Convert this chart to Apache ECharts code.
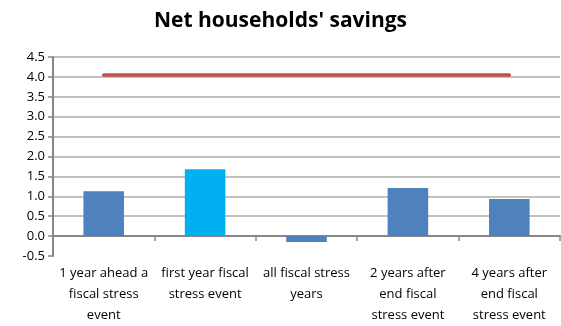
<!DOCTYPE html>
<html>
<head>
<meta charset="utf-8">
<style>
  html, body { margin: 0; padding: 0; background: #ffffff; }
  #chart { width: 561px; height: 326px; }
</style>
<script src="https://cdn.jsdelivr.net/npm/echarts@6/dist/echarts.min.js"></script>
</head>
<body>
<div id="chart"></div>
<script>
// Savings across the phases of a fiscal stress episode
const categories = [
  '1 year ahead a\nfiscal stress\nevent',
  'first year fiscal\nstress event',
  'all fiscal stress\nyears',
  '2 years after\nend fiscal\nstress event',
  '4 years after\nend fiscal\nstress event'
];
const savings = [1.13, 1.68, -0.15, 1.21, 0.93];
const benchmark = [4.05, 4.05, 4.05, 4.05, 4.05];
const barColors = ['#4F81BD', '#00B0F0', '#4F81BD', '#4F81BD', '#4F81BD'];
const yMin = -0.5, yMax = 4.5, yStep = 0.5;

const font = '"Open Sans", "Liberation Sans", sans-serif';
const chart = echarts.init(document.getElementById('chart'), null, { renderer: 'canvas' });

// one colour per gridline, bottom to top; the -0.5 line stays hidden
const gridColors = [];
for (let v = yMin; v <= yMax + 1e-9; v += yStep) {
  gridColors.push(Math.abs(v - yMin) < 1e-9 ? 'rgba(0,0,0,0)' : '#ADADAD');
}

chart.setOption({
  animation: false,
  title: {
    text: "Net households' savings",
    left: 'center',
    top: 6,
    textStyle: { fontFamily: font, fontWeight: 'bold', fontSize: 21, color: '#000' }
  },
  grid: { left: 53, right: 1, top: 57, bottom: 70, containLabel: false, outerBoundsMode: 'none' },
  xAxis: {
    type: 'category',
    data: categories,
    boundaryGap: true,
    axisLine: { onZero: true, lineStyle: { color: '#868686', width: 2 } },
    axisTick: { show: true, alignWithLabel: false, length: 5, lineStyle: { color: '#868686', width: 1.5 } },
    axisLabel: {
      margin: 7,
      interval: 0,
      fontFamily: font,
      fontSize: 13,
      lineHeight: 21,
      color: '#000',
      align: 'center'
    },
    splitLine: { show: false }
  },
  yAxis: {
    type: 'value',
    min: yMin,
    max: yMax,
    interval: yStep,
    axisLine: { show: true, lineStyle: { color: '#868686', width: 2 } },
    axisTick: { show: true, length: 5, lineStyle: { color: '#868686', width: 1.5 } },
    axisLabel: {
      margin: 8,
      fontFamily: font,
      fontSize: 13,
      color: '#000',
      formatter: v => v.toFixed(1)
    },
    splitLine: { show: true, lineStyle: { color: gridColors, width: 1.5 } }
  },
  series: [
    {
      type: 'bar',
      data: savings.map((v, i) => ({ value: v, itemStyle: { color: barColors[i] } })),
      barWidth: '40%'
    },
    {
      type: 'line',
      data: benchmark,
      symbol: 'none',
      lineStyle: { color: '#C0504D', width: 3.5, cap: 'round' },
      z: 3
    }
  ]
});
</script>
</body>
</html>
